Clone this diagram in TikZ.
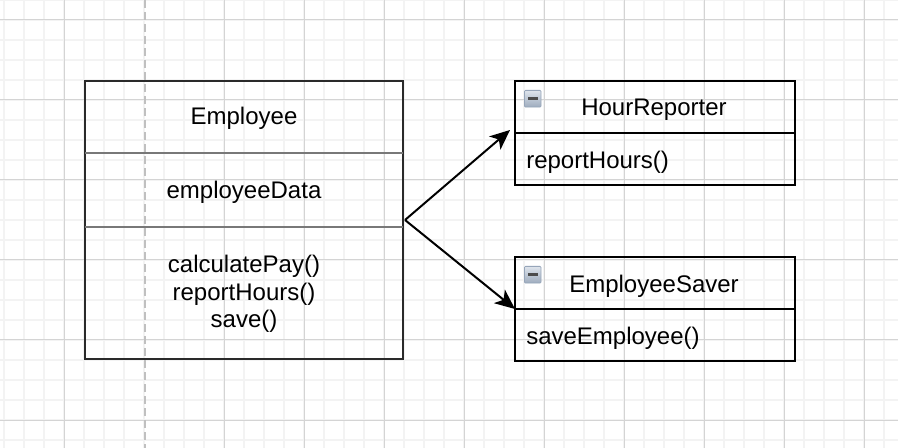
\documentclass[tikz,border=0pt]{standalone}
\usepackage{fontspec}
\setmainfont{Liberation Sans}
\usetikzlibrary{arrows.meta,calc}
\definecolor{gridminor}{RGB}{243,243,243}
\definecolor{gridmajor}{RGB}{212,212,212}
\definecolor{guide}{RGB}{192,192,192}
\definecolor{boxdark}{RGB}{42,42,42}
\definecolor{divider}{RGB}{120,120,120}
\definecolor{icontop}{RGB}{222,228,236}
\definecolor{iconbottom}{RGB}{158,172,190}
\definecolor{iconedge}{RGB}{150,165,185}
\tikzset{
  x=0.75pt,y=-0.75pt,
  boxline/.style={draw=black,line width=1.5pt},
  outerbox/.style={draw=boxdark,line width=1.5pt,inner sep=0pt,outer sep=0pt,anchor=north west},
  classbox/.style={boxline,inner sep=0pt,outer sep=0pt,anchor=north west,minimum width=210pt,minimum height=39pt},
  label/.style={inner sep=0pt,font=\fontsize{18pt}{22pt}\selectfont,align=center},
  conn/.style={draw=black,line width=1.5pt,-{Stealth[length=15pt,width=13pt,inset=4pt]}},
  iconbox/.style={draw=iconedge,line width=0.6pt,rounded corners=0.8pt,top color=icontop,bottom color=iconbottom,minimum width=12.5pt,minimum height=12.5pt,inner sep=0pt,anchor=north west},
}
\begin{document}
\begin{tikzpicture}
\useasboundingbox (0,0) rectangle (898,448);
\fill[white] (0,0) rectangle (898,448);
% minor grid
\foreach \gx in {4,24,...,884} \draw[gridminor,line width=1.2pt] (\gx,0) -- (\gx,448);
\foreach \gy in {0,20,...,440} \draw[gridminor,line width=1.2pt] (0,\gy) -- (898,\gy);
% major grid
\foreach \gx in {64,224,304,...,864} \draw[gridmajor,line width=0.75pt] (\gx,0) -- (\gx,448);
\foreach \gy in {20,100,...,420} \draw[gridmajor,line width=0.75pt] (0,\gy) -- (898,\gy);
\draw[guide,line width=1.2pt,dash pattern=on 6pt off 3pt] (145,0) -- (145,448);
% Employee class
\node[outerbox,minimum width=238.5pt,minimum height=208.5pt] (emp) at (85,81) {};
\coordinate (divA) at (85,153);
\coordinate (divB) at (85,227);
\draw[divider,line width=1.2pt] (divA) -- (divA -| emp.east);
\draw[divider,line width=1.2pt] (divB) -- (divB -| emp.east);
\node[label] (empname) at (244,118) {Employee};
\node[label] (empdata) at (244,192) {employeeData};
\node[label] (empops) at (244,294) {calculatePay()\\[-1.5pt]reportHours()\\[-1.5pt]save()};
% HourReporter
\node[classbox] (hrt) at (515,81) {};
\node[label] (hrtl) at (654,110) {HourReporter};
\node[classbox] (hrb) at (515,133) {};
\node[label,anchor=west] (hrbl) at (526,162) {reportHours()};
% EmployeeSaver
\node[classbox] (est) at (515,257) {};
\node[label] (estl) at (654,286) {EmployeeSaver};
\node[classbox] (esb) at (515,309) {};
\node[label,anchor=west] (esbl) at (526,338) {saveEmployee()};
% collapse icons
\foreach \ix/\iy/\nm in {524/90/iconA,524/266/iconB}{
  \node[iconbox] (\nm) at (\ix,\iy) {};
  \fill[black!70] ($(\nm.center)+(-5,-1.5)$) rectangle ($(\nm.center)+(5,1.5)$);
}
% connectors
\coordinate (tipA) at (510,130);
\draw[conn] ([xshift=1.5pt]emp.east) -- (tipA);
\draw[conn] ([xshift=1.5pt]emp.east) -- (esb.north west);
\end{tikzpicture}
\end{document}
